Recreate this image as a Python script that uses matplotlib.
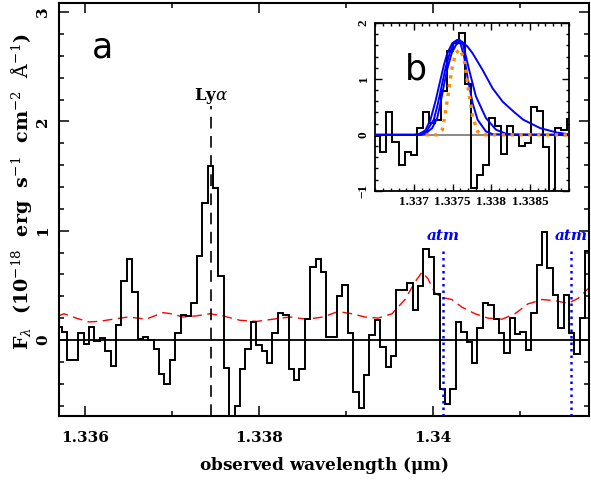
import matplotlib
matplotlib.use('Agg')
import matplotlib.pyplot as plt
import numpy as np
from matplotlib.ticker import MultipleLocator

plt.rcParams['font.family'] = 'DejaVu Serif'
plt.rcParams['mathtext.fontset'] = 'dejavuserif'

# panel a: binned spectrum (regular wavelength bins)
bin_start = 1.335674
bin_width = 6.2e-5
flux = [0.12, 0.076, -0.18, -0.185, 0.064, -0.037, 0.12, -0.01, 0.02, -0.10,
        -0.235, 0.14, 0.54, 0.74, 0.44, 0.012, 0.03, 0.0, -0.08, -0.31,
        -0.40, -0.18, 0.06, 0.23, 0.22, 0.34, 0.77, 1.25, 1.59, 1.39,
        0.585, -0.26, -0.80, -0.60, -0.265, -0.08, 0.16, -0.05, -0.10, -0.21,
        0.067, 0.244, 0.23, -0.265, -0.366, -0.265, 0.19, 0.67, 0.74, 0.625,
        0.03, 0.03, 0.40, 0.50, 0.067, -0.48, -0.62, -0.32, 0.046, 0.18,
        -0.06, -0.25, -0.146, 0.457, 0.457, 0.52, 0.27, 0.49, 0.83, 0.76,
        0.42, -0.45, -0.59, -0.45, 0.16, 0.073, -0.015, -0.21, 0.107, 0.34,
        0.32, 0.19, 0.06, -0.116, 0.20, 0.052, 0.076, -0.09, 0.25, 0.69,
        0.99, 0.66, 0.41, 0.107, 0.41, 0.067, -0.128, 0.20, 0.81]

# noise spectrum (red dashed)
noise_wave = [1.335698, 1.335759, 1.335897, 1.336046, 1.336161, 1.336322, 1.336494,
              1.336609, 1.336701, 1.336897, 1.336989, 1.337126, 1.337276, 1.337437,
              1.337586, 1.337782, 1.337977, 1.338161, 1.338356, 1.338552, 1.338736,
              1.338908, 1.339069, 1.339218, 1.339368, 1.339529, 1.339678, 1.339793,
              1.339874, 1.339943, 1.340023, 1.340103, 1.340218, 1.340333, 1.340483,
              1.340632, 1.340793, 1.340943, 1.341092, 1.341253, 1.341402, 1.341552,
              1.341667, 1.341797]
noise_flux = [0.22, 0.24, 0.20, 0.165, 0.17, 0.19, 0.21, 0.20, 0.19, 0.25, 0.24,
              0.21, 0.22, 0.24, 0.22, 0.18, 0.17, 0.19, 0.21, 0.19, 0.21, 0.26,
              0.24, 0.21, 0.20, 0.24, 0.37, 0.53, 0.62, 0.56, 0.43, 0.39, 0.37,
              0.30, 0.24, 0.20, 0.19, 0.24, 0.33, 0.37, 0.36, 0.335, 0.38, 0.48]

lya_wave = 1.337445
lya_top = 2.14
atm_waves = [1.340118, 1.34159]
atm_top = 0.855

# panel b: inset spectrum and line profile models
inset_bin_start = 1.336488
inset_bin_width = 7.8e-5
inset_flux = [-0.03, -0.30, 0.405, -0.12, -0.54, -0.30, -0.36, 0.13, 0.40, 0.21,
              0.27, 0.79, 1.50, 1.64, 1.83, 0.90, -0.955, -0.72, -0.54, 0.30,
              0.15, -0.35, 0.15, 0.0, -0.20, -0.14, 0.49, 0.42, -0.21, -1.1,
              0.13, 0.08, 0.28]

blue_a_wave = [1.3365, 1.33710, 1.337148, 1.337235, 1.337300, 1.337340, 1.337383,
               1.337435, 1.337487, 1.337548, 1.337617, 1.337691, 1.337757, 1.337887,
               1.338017, 1.338148, 1.338300, 1.338413, 1.338630, 1.338848, 1.339]
blue_a_flux = [0, 0, 0.02, 0.12, 0.30, 0.55, 0.86, 1.20, 1.46, 1.62, 1.67, 1.58,
               1.46, 1.16, 0.83, 0.59, 0.40, 0.27, 0.12, 0.04, 0.01]
blue_b_wave = [1.3365, 1.33705, 1.337105, 1.337170, 1.337256, 1.337308, 1.337356,
               1.337409, 1.337461, 1.337517, 1.337582, 1.337634, 1.337713, 1.337800,
               1.337930, 1.338061, 1.338191, 1.33830, 1.339]
blue_b_flux = [0, 0, 0.01, 0.08, 0.27, 0.55, 0.86, 1.20, 1.46, 1.64, 1.71, 1.62,
               1.16, 0.69, 0.30, 0.09, 0.02, 0.0, 0]
blue_c_wave = [1.3365, 1.33700, 1.337061, 1.337148, 1.337213, 1.337278, 1.337321,
               1.337387, 1.337431, 1.337496, 1.337561, 1.337604, 1.337648, 1.337691,
               1.337757, 1.337822, 1.337930, 1.338017, 1.339]
blue_c_flux = [0, 0, 0.01, 0.08, 0.27, 0.60, 0.86, 1.25, 1.46, 1.64, 1.70, 1.62,
               1.40, 1.04, 0.57, 0.27, 0.06, 0.01, 0]
orange_wave = [1.33715, 1.33730, 1.337366, 1.337400, 1.337431, 1.337465, 1.337496,
               1.337539, 1.337595, 1.337648, 1.337676, 1.337704, 1.337757, 1.337822,
               1.337887, 1.339]
orange_flux = [0, 0.0, 0.09, 0.35, 0.63, 0.95, 1.22, 1.46, 1.53, 1.35, 1.10, 0.80,
               0.33, 0.06, 0.0, 0]

main_xticks = [1.336, 1.338, 1.34]
main_xlabels = ['1.336', '1.338', '1.34']
main_yticks = [0, 1, 2, 3]
inset_xticks = [1.337, 1.3375, 1.338, 1.3385]
inset_xlabels = ['1.337', '1.3375', '1.338', '1.3385']
inset_yticks = [-1, 0, 1, 2]
inset_ylabels = ['\u22121', '0', '1', '2']

W, H = 591, 480
fig = plt.figure(figsize=(W / 100, H / 100), dpi=100)
ax = fig.add_axes([58.7 / W, 1 - 415.7 / H, (589.3 - 58.7) / W, (415.7 - 2.7) / H])

edges = bin_start + bin_width * np.arange(len(flux) + 1)
ymin, ymax = -0.693, 3.086

ax.plot(noise_wave, noise_flux, color='red', lw=1.0, dashes=(7, 4), zorder=2)
ax.axhline(0, color='black', lw=1.3, zorder=3)
ax.stairs(flux, edges, color='black', lw=1.4, zorder=4)
ax.plot([lya_wave, lya_wave], [ymin, lya_top], color='black', lw=1.2,
        dashes=(7, 4.5), zorder=3)
ax.text(lya_wave, 2.2, r'Ly$\alpha$', ha='center', va='baseline', fontsize=12,
        fontweight='bold')
for w in atm_waves:
    ax.plot([w, w], [ymin, atm_top], color='blue', lw=1.8, dashes=(1, 1.6), zorder=5)
    ax.text(w, 0.915, 'atm', color='blue', fontsize=11, fontweight='bold',
            style='italic', ha='center', va='baseline')
ax.text(1.336203, 2.58, 'a', fontsize=25, family='DejaVu Sans', ha='center',
        va='baseline')

ax.set_xlim(1.335698, 1.341797)
ax.set_ylim(ymin, ymax)
ax.set_xticks(main_xticks, main_xlabels)
ax.set_yticks(main_yticks, [str(v) for v in main_yticks], rotation=90, va='center')
ax.xaxis.set_minor_locator(MultipleLocator(0.001))
ax.yaxis.set_minor_locator(MultipleLocator(0.2))
ax.tick_params(which='both', direction='in', top=True, right=True, width=1.1,
               labelsize=11)
for lbl in ax.get_xticklabels() + ax.get_yticklabels():
    lbl.set_fontweight('bold')
ax.tick_params(axis='x', which='major', length=7, pad=11)
ax.tick_params(axis='y', which='major', length=7, pad=6)
ax.tick_params(which='minor', length=3.5)
for s in ax.spines.values():
    s.set_linewidth(1.5)

ax.set_xlabel(r'observed wavelength ($\mathbf{\mu}$m)', fontsize=12.2,
              fontweight='bold', labelpad=7)
ax.set_ylabel(r'F$_\lambda$  (10$^{-18}$  erg  s$^{-1}$  cm$^{-2}$  '
              r'$\mathrm{\AA}^{-1}$)', fontsize=13.8, fontweight='bold')
ax.yaxis.set_label_coords(-0.046, 0.543)

# inset
axin = fig.add_axes([375.3 / W, 1 - 190.7 / H, (568.7 - 375.3) / W, (190.7 - 23) / H])
inset_edges = inset_bin_start + inset_bin_width * np.arange(len(inset_flux) + 1)
axin.axhline(0, color='gray', lw=1.3, zorder=1)
axin.stairs(inset_flux, inset_edges, color='black', lw=1.4, zorder=2)
for wv, fl in [(blue_a_wave, blue_a_flux), (blue_b_wave, blue_b_flux),
               (blue_c_wave, blue_c_flux)]:
    axin.plot(wv, fl, color='blue', lw=1.4, zorder=3)
axin.plot(orange_wave, orange_flux, color='darkorange', lw=2.4, ls=':', zorder=4)
axin.text(1.337031, 0.986, 'b', fontsize=25, family='DejaVu Sans', ha='center',
          va='baseline')

axin.set_xlim(1.3365, 1.339)
axin.set_ylim(-1, 2)
axin.set_xticks(inset_xticks, inset_xlabels)
axin.set_yticks(inset_yticks, inset_ylabels, rotation=90, va='center')
axin.xaxis.set_minor_locator(MultipleLocator(0.0001))
axin.yaxis.set_minor_locator(MultipleLocator(0.2))
axin.tick_params(which='both', direction='in', top=True, right=True, width=1.0)
axin.tick_params(which='major', length=5, pad=4)
axin.tick_params(which='minor', length=2.5)
for lbl in axin.get_xticklabels() + axin.get_yticklabels():
    lbl.set_family('Liberation Serif')
    lbl.set_fontweight('bold')
    lbl.set_fontsize(9.5)
for s in axin.spines.values():
    s.set_linewidth(1.3)

fig.savefig('out.png', dpi=100)
